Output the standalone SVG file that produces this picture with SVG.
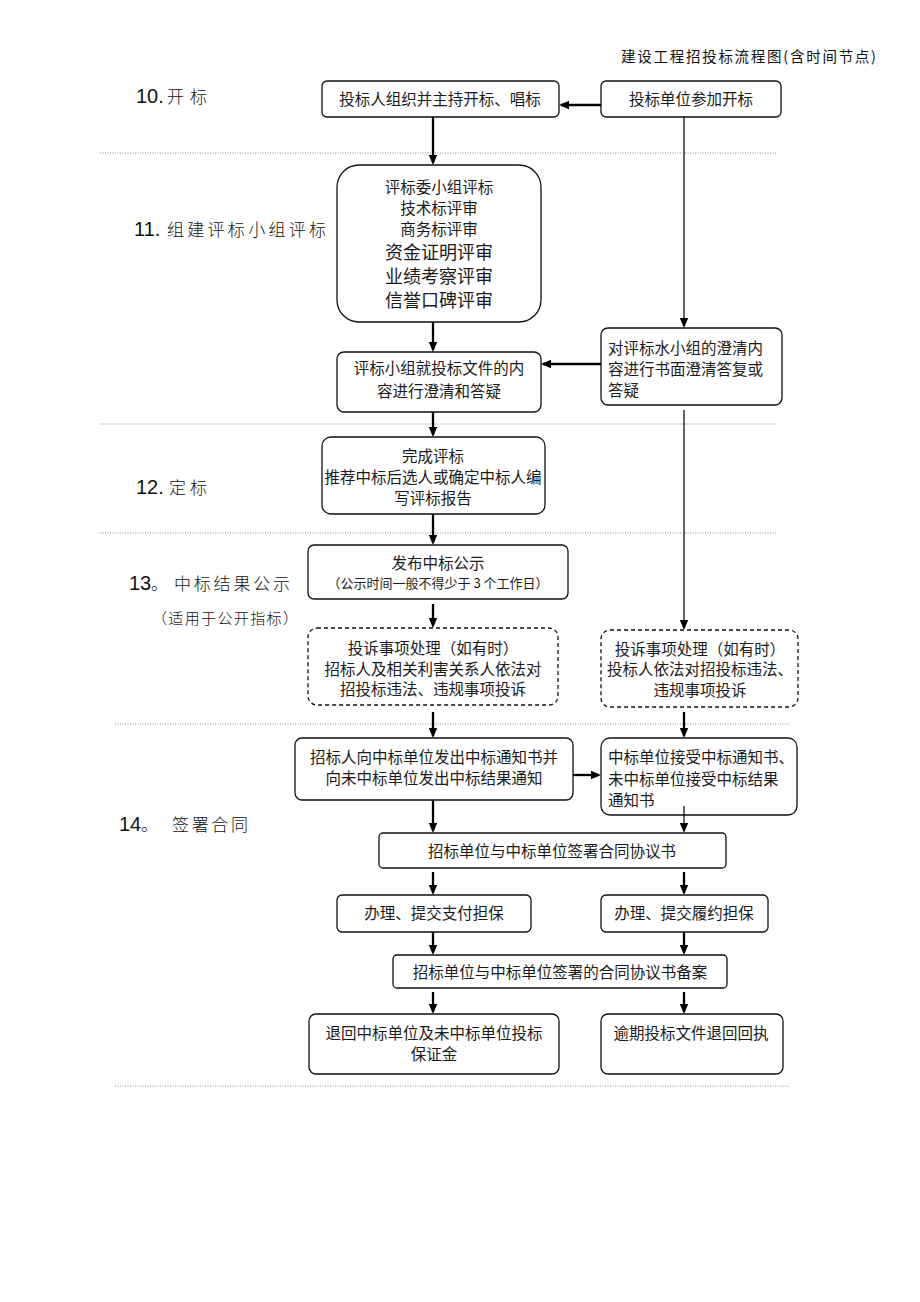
<svg xmlns="http://www.w3.org/2000/svg" width="920" height="1302" viewBox="0 0 920 1302">
<style>
.bx{fill:none;stroke:#111;stroke-width:1.3}
.ds{fill:none;stroke:#111;stroke-width:1.3;stroke-dasharray:4 3}
.t{font-family:"Noto Sans CJK SC",sans-serif;font-size:15.5px;fill:#1a1a1a;text-anchor:middle}
.tl{font-family:"Noto Sans CJK SC",sans-serif;font-size:15.5px;fill:#1a1a1a}
.tb{font-family:"Noto Sans CJK SC",sans-serif;font-size:18px;fill:#1a1a1a;text-anchor:middle}
.ts{font-family:"Noto Sans CJK SC",sans-serif;font-size:13px;fill:#1a1a1a;text-anchor:middle}
.num{font-family:"Liberation Sans",Arial,sans-serif;font-size:20px;fill:#111}
.sec{font-family:"Noto Sans CJK SC",sans-serif;font-size:17px;fill:#111;font-weight:300}
.dot{stroke:#888;stroke-width:1;stroke-dasharray:1 1.5}
.a{stroke:#000;stroke-width:2.3;fill:none;marker-end:url(#ah)}
.a1{stroke:#000;stroke-width:1.2;fill:none;marker-end:url(#ah)}
</style>
<defs>
<marker id="ah" markerUnits="userSpaceOnUse" markerWidth="10" markerHeight="10" viewBox="0 0 10 10" refX="8" refY="5" orient="auto">
<path d="M0,0.8 L10,5 L0,9.2 z" fill="#000"/>
</marker>
</defs>
<rect width="920" height="1302" fill="#fff"/>

<g id="header"><text x="621" y="62" class="sec" style="font-size:14.5px;font-weight:400" textLength="255" lengthAdjust="spacing">建设工程招投标流程图(含时间节点)</text></g>

<g id="dividers">
<line class="dot" x1="100" y1="153" x2="777" y2="153"/>
<line class="dot" x1="100" y1="424" x2="777" y2="424"/>
<line class="dot" x1="100" y1="533" x2="777" y2="533"/>
<line class="dot" x1="115" y1="724" x2="790" y2="724"/>
<line class="dot" x1="115" y1="1086" x2="790" y2="1086"/>
</g>

<g id="labels">
<text class="num" x="136" y="103">10.</text><text class="sec" x="167" y="103" textLength="40" lengthAdjust="spacing">开标</text>
<text class="num" x="134" y="236">11.</text><text class="sec" x="167" y="236" textLength="159" lengthAdjust="spacing">组建评标小组评标</text>
<text class="num" x="136" y="494">12.</text><text class="sec" x="169" y="494" textLength="38" lengthAdjust="spacing">定标</text>
<text class="num" x="129" y="590">13</text><text class="sec" x="151" y="590">。</text><text class="sec" x="174" y="590" textLength="116" lengthAdjust="spacing">中标结果公示</text>
<text class="sec" x="152" y="624" style="font-size:15px" textLength="146" lengthAdjust="spacing">（适用于公开指标）</text>
<text class="num" x="119" y="831">14</text><text class="sec" x="141" y="831">。</text><text class="sec" x="172" y="831" textLength="76" lengthAdjust="spacing">签署合同</text>
</g>

<g id="n_A"><rect class="bx" x="322" y="81" width="237" height="36" rx="5"/><text class="t" x="440" y="105">投标人组织并主持开标、唱标</text></g>
<g id="n_B"><rect class="bx" x="601" y="81" width="180" height="36" rx="5"/><text class="t" x="691" y="105">投标单位参加开标</text></g>
<g id="n_C"><rect class="bx" x="337" y="165" width="204" height="157" rx="22"/>
<text class="t" x="439" y="193">评标委小组评标</text>
<text class="t" x="439" y="214">技术标评审</text>
<text class="t" x="439" y="235">商务标评审</text>
<text class="tb" x="439" y="259">资金证明评审</text>
<text class="tb" x="439" y="283">业绩考察评审</text>
<text class="tb" x="439" y="307">信誉口碑评审</text></g>
<g id="n_D"><rect class="bx" x="337" y="352" width="204" height="60" rx="7"/>
<text class="t" x="439" y="374">评标小组就投标文件的内</text>
<text class="t" x="439" y="397">容进行澄清和答疑</text></g>
<g id="n_E"><rect class="bx" x="601" y="328" width="181" height="77" rx="7"/>
<text class="tl" x="608" y="354">对评标水小组的澄清内</text>
<text class="tl" x="608" y="375">容进行书面澄清答复或</text>
<text class="tl" x="608" y="396">答疑</text></g>
<g id="n_F"><rect class="bx" x="322" y="437" width="223" height="77" rx="9"/>
<text class="t" x="433" y="462">完成评标</text>
<text class="t" x="433" y="483">推荐中标后选人或确定中标人编</text>
<text class="t" x="433" y="504">写评标报告</text></g>
<g id="n_G"><rect class="bx" x="308" y="545" width="260" height="54" rx="6"/>
<text class="t" x="438" y="569">发布中标公示</text>
<text class="ts" x="438" y="588">（公示时间一般不得少于 3 个工作日）</text></g>
<g id="n_H"><rect class="ds" x="308" y="628" width="250" height="77" rx="9"/>
<text class="t" x="433" y="654">投诉事项处理（如有时）</text>
<text class="t" x="433" y="675">招标人及相关利害关系人依法对</text>
<text class="t" x="433" y="695">招投标违法、违规事项投诉</text></g>
<g id="n_I"><rect class="ds" x="601" y="630" width="197" height="77" rx="9"/>
<text class="t" x="700" y="655">投诉事项处理（如有时）</text>
<text class="t" x="700" y="675">投标人依法对招投标违法、</text>
<text class="t" x="700" y="696">违规事项投诉</text></g>
<g id="n_J"><rect class="bx" x="295" y="738" width="278" height="62" rx="7"/>
<text class="t" x="434" y="763">招标人向中标单位发出中标通知书并</text>
<text class="t" x="434" y="784">向未中标单位发出中标结果通知</text></g>
<g id="n_K"><rect class="bx" x="601" y="738" width="196" height="77" rx="9"/>
<text class="tl" x="608" y="763">中标单位接受中标通知书、</text>
<text class="tl" x="608" y="785">未中标单位接受中标结果</text>
<text class="tl" x="608" y="806">通知书</text></g>
<g id="n_L"><rect class="bx" x="379" y="833" width="347" height="35" rx="4"/><text class="t" x="552" y="857">招标单位与中标单位签署合同协议书</text></g>
<g id="n_M"><rect class="bx" x="337" y="895" width="194" height="37" rx="5"/><text class="t" x="434" y="919">办理、提交支付担保</text></g>
<g id="n_N"><rect class="bx" x="601" y="895" width="167" height="37" rx="5"/><text class="t" x="684" y="919">办理、提交履约担保</text></g>
<g id="n_O"><rect class="bx" x="393" y="955" width="334" height="33" rx="4"/><text class="t" x="560" y="978">招标单位与中标单位签署的合同协议书备案</text></g>
<g id="n_P"><rect class="bx" x="309" y="1014" width="250" height="60" rx="7"/>
<text class="t" x="434" y="1039">退回中标单位及未中标单位投标</text>
<text class="t" x="434" y="1060">保证金</text></g>
<g id="n_Q"><rect class="bx" x="601" y="1014" width="182" height="60" rx="7"/><text class="t" x="691" y="1039">逾期投标文件退回回执</text></g>

<g id="connectors">
<line class="a" x1="601" y1="105" x2="561" y2="105"/>
<line class="a" x1="433" y1="117" x2="433" y2="163"/>
<line class="a1" x1="684" y1="117" x2="684" y2="326"/>
<line class="a" x1="433" y1="322" x2="433" y2="350"/>
<line class="a" x1="601" y1="364" x2="543" y2="364"/>
<line class="a" x1="433" y1="412" x2="433" y2="435"/>
<line class="a1" x1="684" y1="410" x2="684" y2="628"/>
<line class="a" x1="433" y1="514" x2="433" y2="543"/>
<line class="a" x1="433" y1="604" x2="433" y2="626"/>
<line class="a" x1="433" y1="712" x2="433" y2="736"/>
<line class="a" x1="684" y1="712" x2="684" y2="736"/>
<line class="a" x1="573" y1="775" x2="599" y2="775"/>
<line class="a" x1="433" y1="800" x2="433" y2="831"/>
<line class="a1" x1="684" y1="806" x2="684" y2="831"/>
<line class="a" x1="433" y1="872" x2="433" y2="893"/>
<line class="a" x1="684" y1="872" x2="684" y2="893"/>
<line class="a" x1="433" y1="932" x2="433" y2="953"/>
<line class="a" x1="684" y1="932" x2="684" y2="953"/>
<line class="a" x1="433" y1="992" x2="433" y2="1012"/>
<line class="a" x1="684" y1="992" x2="684" y2="1012"/>
</g>
</svg>
